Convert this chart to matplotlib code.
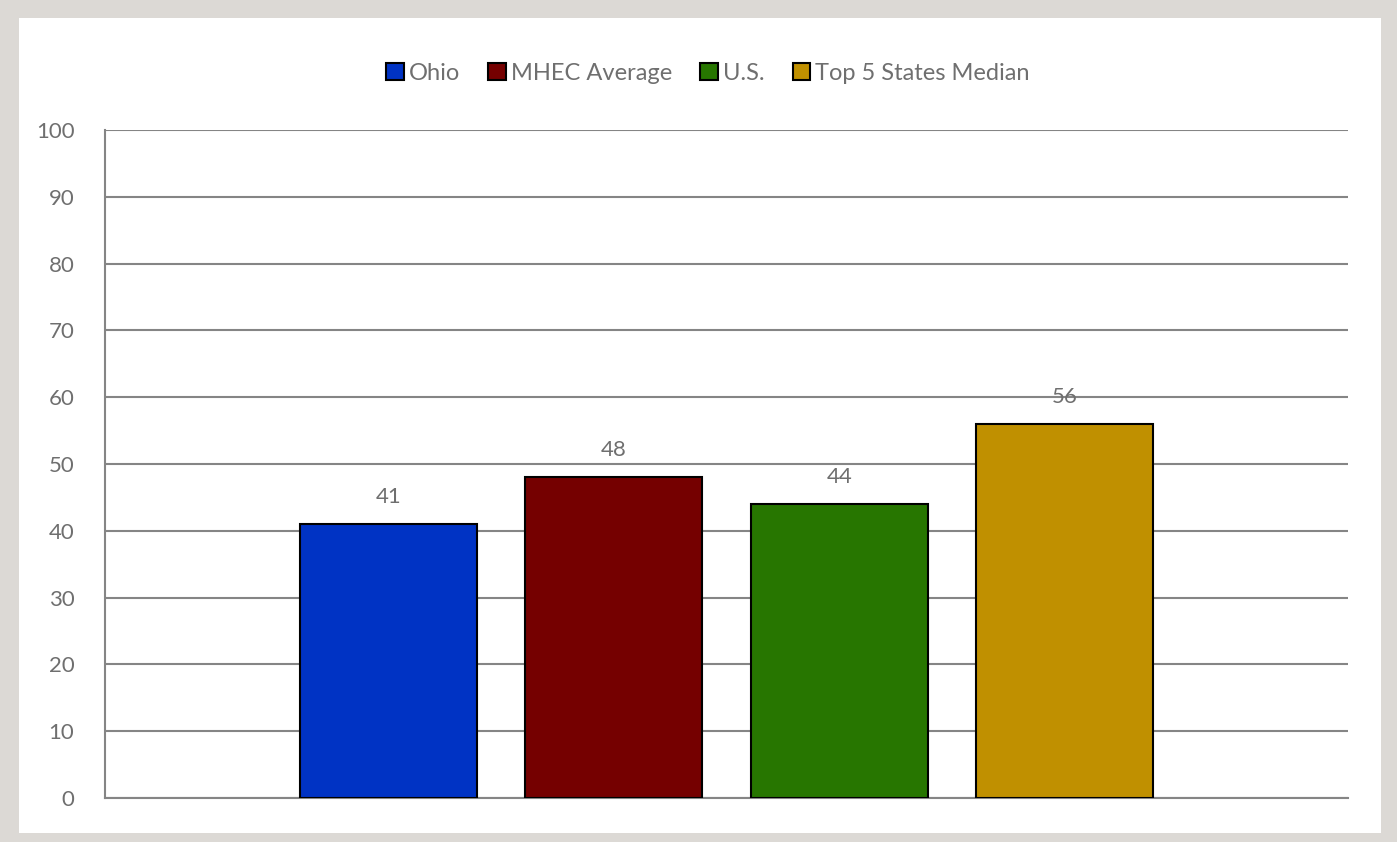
import matplotlib.pyplot as plt
from matplotlib.patches import Rectangle
import numpy as np

# data
series = ["Ohio", "MHEC Average", "U.S.", "Top 5 States Median"]
values = [41, 48, 44, 56]
colors = ["#0033C4", "#750000", "#277600", "#C09000"]
yticks = list(range(0, 101, 10))

plt.rcParams["font.family"] = ["Lato", "DejaVu Sans"]
txt_color = "#6f6f6f"
grid_color = "#858585"

fig = plt.figure(figsize=(13.97, 8.42), dpi=100)
fig.patch.set_facecolor("#dcd9d5")
# white panel inside the grey frame
fig.patches.append(Rectangle((19 / 1397, 9 / 842), (1381 - 19) / 1397, (824 - 9) / 842,
                             transform=fig.transFigure, facecolor="white",
                             edgecolor="none", zorder=-5))

ax = fig.add_axes([105 / 1397, 44 / 842, 1243 / 1397, 668 / 842])
ax.set_facecolor("none")

spacing = 225.5 / 1243
width = 177 / 1243
xpos = (np.arange(len(series)) - 1.5) * spacing
bars = ax.bar(xpos, values, width=width, color=colors, edgecolor="black",
              linewidth=1.5, label=series, zorder=3)

for x, v in zip(xpos, values):
    ax.text(x, v + 2.6, str(v), ha="center", va="bottom", fontsize=16,
            color=txt_color)

ax.set_xlim(-0.5, 0.5)
ax.set_ylim(0, 100)
ax.set_yticks(yticks)
ax.set_xticks([])
ax.yaxis.grid(True, color=grid_color, linewidth=1.5, zorder=0)
ax.tick_params(axis="y", length=0, pad=22, labelsize=16, labelcolor=txt_color)
for s in ["top", "right"]:
    ax.spines[s].set_visible(False)
for s in ["left", "bottom"]:
    ax.spines[s].set_color(grid_color)
    ax.spines[s].set_linewidth(1.5)

leg = fig.legend(handles=bars, labels=series, loc="center",
                 bbox_to_anchor=(708 / 1397, 1 - 73 / 842), ncol=4, frameon=False,
                 fontsize=17, handlelength=0.75, handleheight=0.75, handletextpad=0.2,
                 columnspacing=1.2)
for t in leg.get_texts():
    t.set_color(txt_color)

fig.savefig("out.png", dpi=100, facecolor=fig.get_facecolor())
